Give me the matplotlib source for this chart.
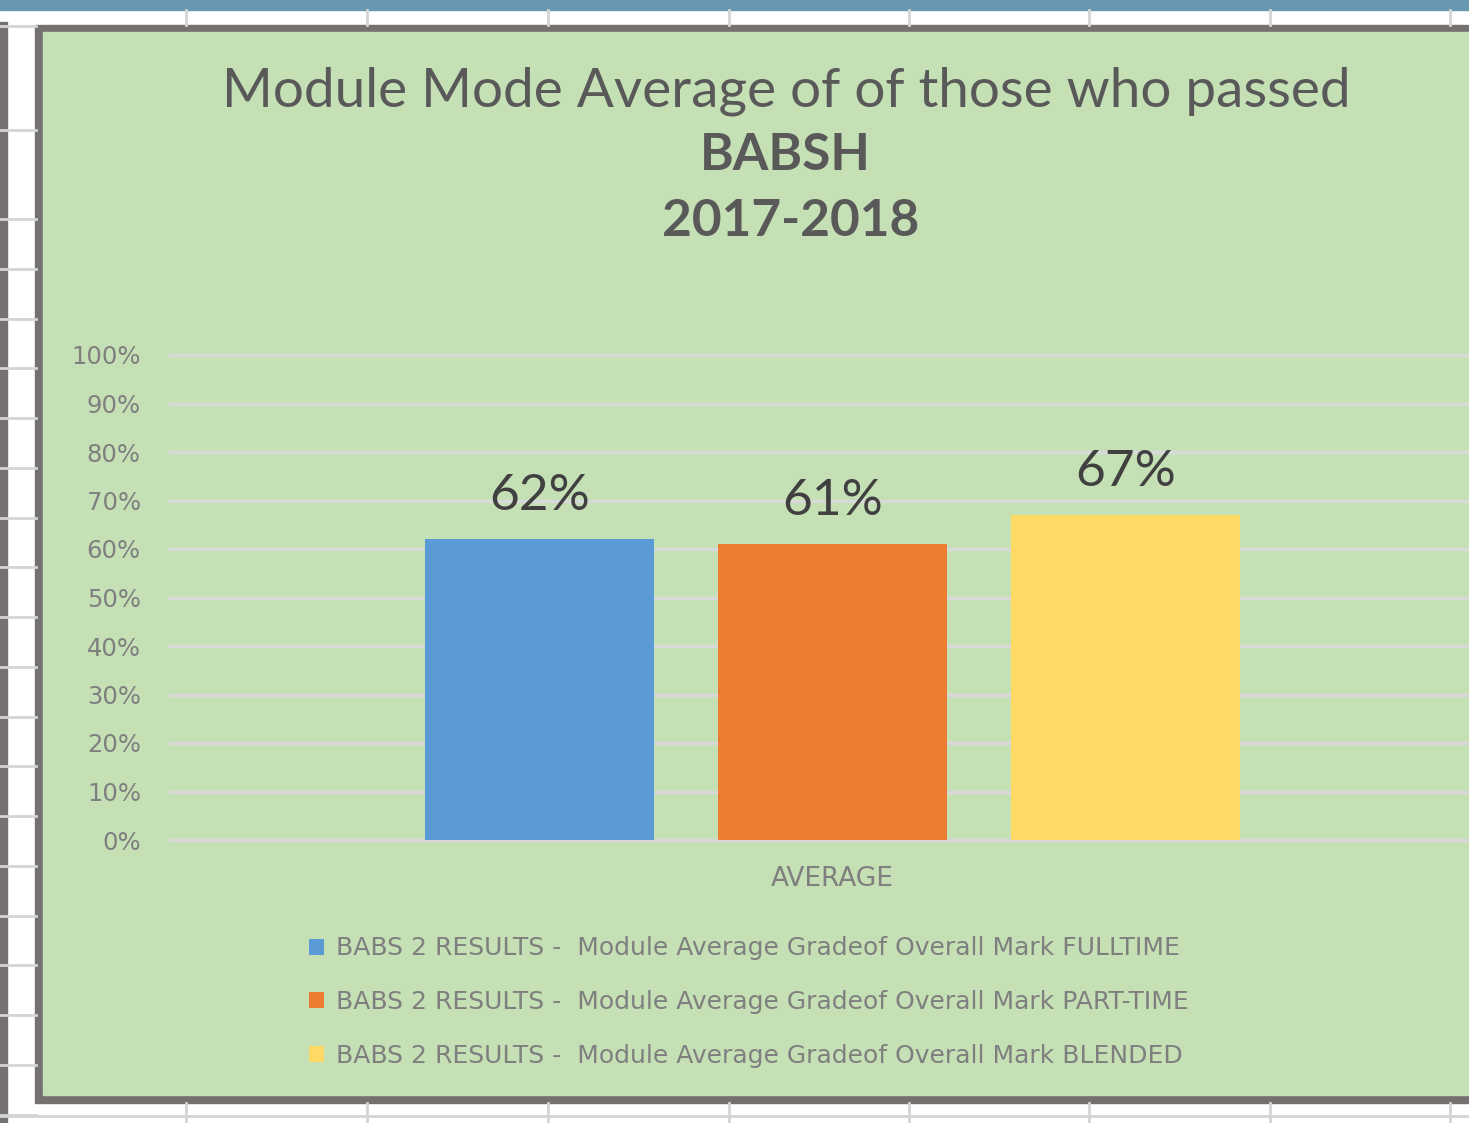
import numpy as np
import matplotlib
matplotlib.use('Agg')
import matplotlib.pyplot as plt
from matplotlib.patches import Rectangle

plt.rcParams['font.family'] = ['Lato', 'DejaVu Sans']

W, H = 1469, 1123

# chart data
title_lines = ['Module Mode Average of of those who passed', 'BABSH', '2017-2018']
category = 'AVERAGE'
series_labels = [
    'BABS 2 RESULTS -  Module Average Gradeof Overall Mark FULLTIME',
    'BABS 2 RESULTS -  Module Average Gradeof Overall Mark PART-TIME',
    'BABS 2 RESULTS -  Module Average Gradeof Overall Mark BLENDED',
]
values = [0.62, 0.61, 0.67]
bar_colors = ['#5B9BD5', '#ED7D31', '#FFD966']
y_ticks = [0.0, 0.1, 0.2, 0.3, 0.4, 0.5, 0.6, 0.7, 0.8, 0.9, 1.0]
y_tick_labels = ['0%', '10%', '20%', '30%', '40%', '50%', '60%', '70%', '80%', '90%', '100%']

small_font = ['DejaVu Sans']

fig = plt.figure(figsize=(W / 100, H / 100), dpi=100)

# spreadsheet behind the chart, drawn in pixel coords
bg = fig.add_axes([0, 0, 1, 1])
bg.set_xlim(0, W)
bg.set_ylim(H, 0)
bg.axis('off')
bg.add_patch(Rectangle((0, 0), W, H, color='white'))
bg.add_patch(Rectangle((0, 0), W, 10, color='#6797B1'))
cell_line = '#D4D4D4'
for cx in [186, 367, 548, 729, 909, 1089, 1270, 1450]:
    bg.plot([cx, cx], [10, 25], color=cell_line, lw=2)
    bg.plot([cx, cx], [1103, H], color=cell_line, lw=2)
row_lines = [26, 130] + list(np.arange(219, 1120, 49.75))
for ry in row_lines:
    bg.plot([0, 36], [ry, ry], color=cell_line, lw=2)
bg.plot([0, W], [1116, 1116], color=cell_line, lw=2)
bg.add_patch(Rectangle((0, 22), 7, H, color='#767171'))
# chart border + green chart area
bg.add_patch(Rectangle((35, 25), W, 1078, color='#767171'))
bg.add_patch(Rectangle((43, 32), W, 1063, color='#C5E0B4'))

# plot area
ax = fig.add_axes([170 / W, (H - 840) / H, (W - 170) / W, 485 / H])
ax.patch.set_alpha(0)
x = np.array([-1, 0, 1])
bw = 229 / 293
for xi, v, c, lab in zip(x, values, bar_colors, series_labels):
    ax.bar(xi, v, bw, color=c, label=lab, zorder=3)
    ax.annotate(f'{v:.0%}', (xi, v), xytext=(0, 21), textcoords='offset points',
                ha='center', va='baseline', fontsize=37, color='#404040')

ax.set_xlim(-(832.5 - 170) / 293, (W - 832.5) / 293)
ax.set_ylim(0, 1)
ax.set_yticks(y_ticks)
ax.set_yticklabels(y_tick_labels, fontsize=17.5, color='#7F7F7F', family=small_font)
ax.set_xticks([0])
ax.set_xticklabels([category], fontsize=19, color='#7F7F7F', family=small_font)
ax.tick_params(axis='y', length=0, pad=21)
ax.tick_params(axis='x', length=0, pad=19)
ax.grid(axis='y', color='#D9D9D9', lw=2.5, zorder=0)
for gl in ax.get_ygridlines():
    gl.set_clip_on(False)
for s in ax.spines.values():
    s.set_visible(False)

# title, three lines
fig.text(786 / W, 1 - 91 / H, title_lines[0], ha='center', va='center',
         fontsize=39.5, color='#595959')
fig.text(785 / W, 1 - 156 / H, title_lines[1], ha='center', va='center',
         fontsize=37, fontweight='bold', color='#595959')
fig.text(791 / W, 1 - 222 / H, title_lines[2], ha='center', va='center',
         fontsize=37, fontweight='bold', color='#595959')

handles, labels = ax.get_legend_handles_labels()
fig.legend(handles, labels, loc='upper left', bbox_to_anchor=(286 / W, 1 - 914 / H),
           frameon=False, prop={'family': small_font, 'size': 18}, labelcolor='#7F7F7F',
           handlelength=0.6, handleheight=0.6, handletextpad=0.5, labelspacing=1.18)

fig.savefig('out.png', dpi=100)
